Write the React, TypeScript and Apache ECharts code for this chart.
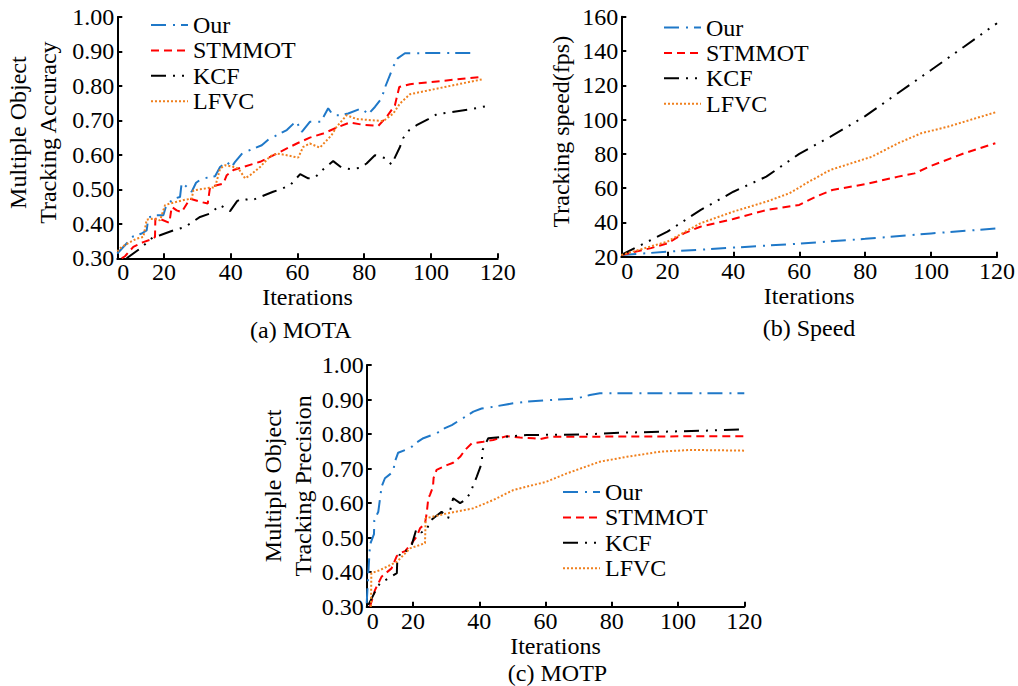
import React, { useEffect, useRef } from "react";
import * as echarts from "echarts";

const FONT = "'Liberation Serif', 'Times New Roman', serif";
const X_MIN = 6;
const X_MAX = 120;
const seriesNames = ["Our", "STMMOT", "KCF", "LFVC"];
const captions = ["(a) MOTA", "(b) Speed", "(c) MOTP"];

// (a) MOTA
const motaOur = [[6,0.314],[8.3,0.338],[10.8,0.364],[13.3,0.372],[14.8,0.381],[15.3,0.418],[17.3,0.425],[19.8,0.425],[20.8,0.457],[23.3,0.474],[24.8,0.478],[25.3,0.519],[26.6,0.509],[28.3,0.493],[29.6,0.519],[31.3,0.531],[35.3,0.538],[36.8,0.565],[38.8,0.58],[40.3,0.565],[41.3,0.58],[43.6,0.606],[45.8,0.614],[49.3,0.628],[51.5,0.646],[53.8,0.657],[56.8,0.672],[59.6,0.698],[61.3,0.667],[63.7,0.696],[67,0.696],[69.2,0.735],[70.7,0.715],[72.7,0.715],[75.2,0.72],[79.2,0.735],[81.2,0.718],[83.2,0.739],[85.2,0.764],[86.2,0.795],[88.7,0.856],[90,0.88],[92.2,0.895],[113.5,0.896]];
const motaSTMMOT = [[7.3,0.3],[8.3,0.306],[10.8,0.333],[13.8,0.347],[16.8,0.357],[17.3,0.362],[17.4,0.415],[18.6,0.415],[21.6,0.403],[22.3,0.449],[23.8,0.439],[25.3,0.434],[27.8,0.473],[30.8,0.464],[33.1,0.459],[33.8,0.507],[35.8,0.512],[37.8,0.517],[38.8,0.541],[40.8,0.556],[43.8,0.565],[48.8,0.58],[53.8,0.604],[59.8,0.633],[63.7,0.65],[67.7,0.662],[72.2,0.681],[75.7,0.694],[79.2,0.688],[84.2,0.684],[86.7,0.71],[89.2,0.744],[90.5,0.797],[93.7,0.805],[115.7,0.827]];
const motaKCF = [[8.8,0.3],[12.8,0.328],[16.8,0.362],[18.8,0.367],[22.8,0.381],[26.3,0.391],[30.8,0.42],[33.8,0.43],[36.8,0.454],[39.8,0.437],[41.9,0.466],[43.3,0.473],[46.3,0.468],[48.8,0.478],[52.7,0.493],[54.8,0.5],[57.8,0.512],[60.8,0.544],[63.2,0.532],[65.2,0.534],[67.7,0.558],[70.7,0.582],[73.2,0.563],[75.7,0.559],[78.5,0.562],[80.7,0.575],[83.2,0.599],[86.2,0.591],[88.2,0.572],[90.7,0.623],[91.7,0.649],[93.5,0.672],[95.7,0.686],[99.2,0.704],[101.7,0.718],[104.7,0.722],[111.7,0.732],[116.9,0.742]];
const motaLFVC = [[6,0.32],[7.3,0.333],[9.8,0.347],[11.8,0.357],[13.8,0.362],[14.3,0.386],[14.8,0.412],[16.8,0.415],[18.8,0.41],[20.3,0.454],[21.8,0.459],[23.8,0.464],[26.3,0.47],[28.3,0.473],[28.8,0.497],[30.8,0.5],[33.8,0.505],[35.3,0.506],[36.8,0.56],[38.3,0.57],[40.5,0.566],[42.3,0.56],[44.3,0.532],[45.8,0.541],[48.8,0.565],[51.8,0.596],[53.8,0.604],[56.8,0.599],[60.2,0.592],[61.7,0.623],[63.7,0.633],[66.7,0.621],[70.2,0.657],[71.7,0.681],[74.7,0.715],[77.7,0.704],[85.7,0.698],[88.7,0.72],[90.7,0.749],[93.7,0.776],[115.7,0.82]];

// (b) Speed
const speedOur = [[6,21],[20,22.9],[40,25.3],[60,27.6],[80,30.4],[100,33.6],[119.6,36.4]];
const speedSTMMOT = [[6,21],[15,25],[20,27.8],[25,33.6],[30,37.5],[40,42],[50,47.2],[60,50.2],[65,55],[70,58.9],[80,62.3],[90,66.7],[95,68.6],[100,73],[110,80.3],[119.5,86.2]];
const speedKCF = [[6,21],[20,34.6],[30,47.2],[40,57.9],[50,66.7],[60,80],[70,90.6],[80,102],[90,115.5],[100,128.9],[110,142.5],[120,156.2]];
const speedLFVC = [[6,21],[20,28.8],[30,39.5],[40,46.3],[50,52.1],[57,57],[63,63.8],[69.4,70.6],[82,78.3],[90,86.2],[97,92],[105,95.8],[120,104.5]];

// (c) MOTP
const motpOur = [[6,0.31],[6.5,0.4],[7,0.48],[8.2,0.51],[8.3,0.55],[9.5,0.575],[10.5,0.648],[11.5,0.672],[14,0.691],[14.5,0.72],[15.5,0.746],[19.1,0.759],[21.1,0.776],[23.1,0.788],[27.1,0.802],[29.6,0.817],[31.7,0.826],[35.7,0.85],[38.2,0.865],[40.7,0.874],[44.2,0.879],[50.2,0.889],[54.2,0.894],[63.8,0.9],[69.4,0.903],[73.4,0.913],[76.4,0.918],[120,0.918]];
const motpSTMMOT = [[7,0.3],[8.5,0.348],[10.5,0.387],[13.5,0.411],[15.1,0.447],[16.1,0.455],[17.6,0.461],[19.6,0.484],[21.1,0.503],[22.1,0.527],[23.6,0.541],[24.1,0.57],[24.6,0.614],[25.1,0.624],[26,0.647],[26.2,0.673],[27.1,0.696],[30.2,0.71],[32.1,0.717],[34.2,0.734],[35.7,0.754],[37.7,0.773],[41.2,0.778],[44.2,0.783],[48.3,0.794],[52.3,0.79],[56.3,0.788],[58.3,0.785],[61.3,0.792],[120,0.794]];
const motpKCF = [[6.5,0.305],[8.5,0.343],[10,0.368],[12.5,0.382],[15.1,0.397],[15.2,0.426],[16.1,0.455],[17.3,0.455],[19.6,0.479],[21,0.525],[22.5,0.515],[24.1,0.522],[25.1,0.548],[26.9,0.562],[28.6,0.575],[30.6,0.556],[32.1,0.614],[34.2,0.6],[35.7,0.609],[37.2,0.628],[39.2,0.676],[40.7,0.715],[41,0.754],[42.7,0.788],[46.2,0.791],[54.3,0.797],[71.4,0.799],[83.5,0.804],[109.1,0.81],[120,0.814]];
const motpLFVC = [[7.3,0.3],[7.4,0.397],[10,0.406],[15.1,0.43],[19.1,0.469],[23.6,0.484],[23.8,0.556],[30.2,0.57],[38.2,0.585],[44.2,0.609],[50.3,0.638],[60.3,0.662],[66.4,0.686],[76.4,0.72],[84.5,0.734],[94.6,0.749],[103.6,0.754],[120,0.752]];

const lineStyles: Record<string, { color: string; type: number[] }> = {
  Our: { color: "#1f78c8", type: [15, 7, 2, 6] },
  STMMOT: { color: "#ff0000", type: [8, 5] },
  KCF: { color: "#000000", type: [15, 7, 2, 7, 2, 7] },
  LFVC: { color: "#f0801e", type: [2, 2] },
};

const panels = [
  { data: [motaOur, motaSTMMOT, motaKCF, motaLFVC], yMin: 0.3, yMax: 1.0, yStep: 0.1, yName: "Multiple Object\nTracking Accuracy", digits: 2,
    grid: { left: 117.3, top: 17, width: 380.4, height: 241.3 }, nameGap: 54, namePad: [0, 0, 0, 10], legend: { left: 150, top: 13 }, caption: { x: 300.8, y: 330 } },
  { data: [speedOur, speedSTMMOT, speedKCF, speedLFVC], yMin: 20, yMax: 160, yStep: 20, yName: "Tracking speed(fps)", digits: 0,
    grid: { left: 621.3, top: 16.7, width: 378.4, height: 240 }, nameGap: 45, namePad: [0, 0, 0, 10], legend: { left: 663, top: 15.5 }, caption: { x: 809, y: 328 } },
  { data: [motpOur, motpSTMMOT, motpKCF, motpLFVC], yMin: 0.3, yMax: 1.0, yStep: 0.1, yName: "Multiple Object\nTracking Precision", digits: 2,
    grid: { left: 366.7, top: 365, width: 377.6, height: 241.7 }, nameGap: 49, namePad: [0, 0, 0, 0], legend: { left: 562, top: 480 }, caption: { x: 557.5, y: 673 } },
];

const axisCommon = {
  axisLine: { show: true, onZero: false, lineStyle: { color: "#000", width: 2 } },
  axisTick: { show: true, inside: true, length: 5, lineStyle: { color: "#000", width: 2 } },
  splitLine: { show: false },
};

export default function App() {
  const ref = useRef<HTMLDivElement>(null);
  useEffect(() => {
    if (!ref.current) return;
    const chart = echarts.init(ref.current, undefined, { renderer: "svg" });
    const option: any = {
      animation: false,
      backgroundColor: "#fff",
      grid: panels.map((p) => ({ ...p.grid, containLabel: false })),
      xAxis: panels.map((p, i) => ({
        type: "value",
        gridIndex: i,
        min: X_MIN,
        max: X_MAX,
        ...axisCommon,
        axisLabel: {
          color: "#000", fontSize: 24, fontFamily: FONT, margin: 2,
          alignMinLabel: "left",
          formatter: (v: number) => (v === X_MIN ? "0" : String(v)),
        },
        name: "Iterations",
        nameLocation: "middle",
        nameGap: 26,
        nameTextStyle: { color: "#000", fontSize: 24, fontFamily: FONT },
      })),
      yAxis: panels.map((p, i) => ({
        type: "value",
        gridIndex: i,
        min: p.yMin,
        max: p.yMax,
        interval: p.yStep,
        ...axisCommon,
        axisLabel: {
          color: "#000", fontSize: 24, fontFamily: FONT, margin: 3,
          formatter: (v: number) => v.toFixed(p.digits),
        },
        name: p.yName,
        nameLocation: "middle",
        nameRotate: 90,
        nameGap: p.nameGap,
        nameTextStyle: { color: "#000", fontSize: 24, fontFamily: FONT, lineHeight: 30, padding: p.namePad },
      })),
      legend: panels.map((p) => ({
        orient: "vertical",
        left: p.legend.left,
        top: p.legend.top,
        padding: 0,
        itemGap: 1.4,
        itemWidth: 37,
        itemHeight: 14,
        itemStyle: { opacity: 0 },
        data: seriesNames,
        textStyle: { color: "#000", fontSize: 24, fontFamily: FONT },
      })),
      series: panels.flatMap((p, i) =>
        seriesNames.map((name, k) => ({
          type: "line",
          name,
          xAxisIndex: i,
          yAxisIndex: i,
          data: p.data[k],
          symbol: "none",
          showSymbol: false,
          itemStyle: { color: lineStyles[name].color },
          lineStyle: { color: lineStyles[name].color, width: 2, type: lineStyles[name].type },
        }))
      ),
      graphic: panels.map((p, i) => ({
        type: "text",
        x: p.caption.x,
        y: p.caption.y,
        style: {
          text: captions[i],
          font: `24px ${FONT}`,
          fill: "#000",
          textAlign: "center",
          textVerticalAlign: "middle",
        },
      })),
    };
    chart.setOption(option);
    return () => chart.dispose();
  }, []);
  return <div ref={ref} style={{ position: "fixed", left: 0, top: 0, width: 1018, height: 686 }} />;
}
